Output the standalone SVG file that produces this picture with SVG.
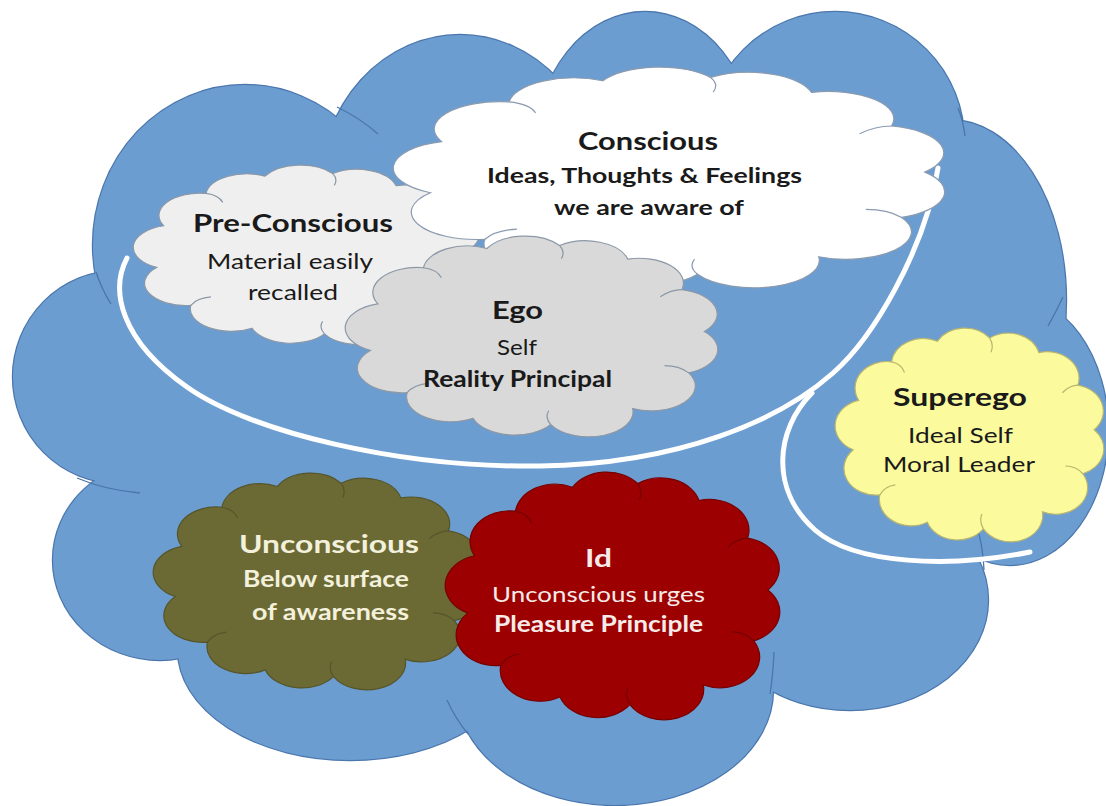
<svg xmlns="http://www.w3.org/2000/svg" xmlns:xlink="http://www.w3.org/1999/xlink" width="1106" height="806" viewBox="0 0 1106 806">
<style>
.lobe-stroke{fill:none;stroke:#4a76ac;stroke-width:2.4}
.lobe-fill{fill:#6c9dd1;stroke:none}
.seam{fill:none;stroke:#4a76ac;stroke-width:1.3}
.wline{fill:none;stroke:#ffffff;stroke-width:5;stroke-linecap:round}
.t{font-family:Lato,"Liberation Sans",sans-serif;text-anchor:middle;fill:#1a1a1a}
.b{font-weight:bold}
.light{fill:#f3f0dc}
.c-white{fill:#ffffff;stroke:#8a9bb0;stroke-width:1.2}
.c-pre{fill:#efefef;stroke:#8a98a8;stroke-width:1.2}
.c-ego{fill:#d9d9d9;stroke:#8c98a6;stroke-width:1.2}
.c-super{fill:#fbfb9e;stroke:#b9b56e;stroke-width:1.2}
.c-uncon{fill:#6b6a34;stroke:#56552a;stroke-width:1.2}
.c-id{fill:#9c0000;stroke:#760000;stroke-width:1.2}
</style>
<defs>
<g id="lobes">
<ellipse cx="245" cy="245" rx="152" ry="160"/>
<ellipse cx="460" cy="190" rx="140" ry="155"/>
<ellipse cx="645" cy="150" rx="110" ry="138"/>
<circle cx="835" cy="141" r="129"/>
<ellipse cx="950" cy="300" rx="116" ry="180"/>
<ellipse cx="1010" cy="430" rx="98" ry="135"/>
<ellipse cx="850" cy="600" rx="138" ry="110"/>
<ellipse cx="615" cy="690" rx="158" ry="115"/>
<ellipse cx="350" cy="650" rx="172" ry="110"/>
<ellipse cx="160" cy="560" rx="107" ry="100"/>
<ellipse cx="118" cy="377" rx="105" ry="106"/>
<ellipse cx="560" cy="400" rx="420" ry="280"/>
</g>
<path id="cloud" vector-effect="non-scaling-stroke" d="M12.41,37.00 A10.5,10.5 0 0 1 23.24,21.76 A10.5,10.5 0 0 1 38.30,13.66 A10.5,10.5 0 0 1 55.57,12.37 A10.5,10.5 0 0 1 71.78,18.13 A10.5,10.5 0 0 1 84.64,31.00 A10.5,10.5 0 0 1 89.98,48.67 A10.5,10.5 0 0 1 86.25,66.06 A10.5,10.5 0 0 1 72.94,81.13 A10.5,10.5 0 0 1 53.49,87.86 A10.5,10.5 0 0 1 35.02,85.23 A10.5,10.5 0 0 1 19.36,74.43 A10.5,10.5 0 0 1 10.61,56.60 A10.5,10.5 0 0 1 12.41,37.00 Z"/>
<path id="wrinkle" fill="none" vector-effect="non-scaling-stroke" d="M23.24,21.76 Q26.5,22.5 27.5,26 M55.57,12.37 Q57,15 56,18 M84.64,31 Q82,31 79.5,34 M86.25,66.06 Q84,63 80.5,63 M53.49,87.86 Q52,85 53,82 M19.36,74.43 Q21,71 24.5,70.5"/>
</defs>

<g id="background-cloud">
<use href="#lobes" class="lobe-stroke"/>
<use href="#lobes" class="lobe-fill"/>
<path class="seam" d="M337,107 Q360,118 378,134 M958,108 Q963,120 965,136 M96,272 Q102,290 111,304 M77,478 Q105,490 140,493 M447,700 Q455,718 468,734 M774,652 Q773,675 770,694 M1063,297 Q1056,312 1048,326 M978,530 Q983,548 984,570"/>
</g>

<g id="connectors">
<path class="wline" d="M127,258 C110,290 120,340 187,387 C250,432 400,468 540,466 C680,464 780,420 833,373 C873,338 925,250 938,168"/>
<path class="wline" d="M812,393 C775,430 770,490 815,530 C855,565 950,568 1030,552"/>
</g>

<g id="node-preconscious">
<g transform="translate(115.0,147.15) scale(3.916,2.125)">
<use href="#cloud" class="c-pre"/>
<use href="#wrinkle" class="c-pre"/>
</g>
<text class="t b" x="293" y="232" font-size="25" textLength="200" lengthAdjust="spacingAndGlyphs">Pre-Conscious</text>
<text class="t" x="290" y="269" font-size="22" textLength="166" lengthAdjust="spacingAndGlyphs">Material easily</text>
<text class="t" x="293" y="300" font-size="22" textLength="90" lengthAdjust="spacingAndGlyphs">recalled</text>
</g>

<g id="node-conscious">
<g transform="translate(364.3,45.1) scale(6.230,2.609)">
<use href="#cloud" class="c-white"/>
<use href="#wrinkle" class="c-white"/>
</g>
<text class="t b" x="648" y="150" font-size="25" textLength="140" lengthAdjust="spacingAndGlyphs">Conscious</text>
<text class="t b" x="644.5" y="183" font-size="21" textLength="315" lengthAdjust="spacingAndGlyphs">Ideas, Thoughts &amp; Feelings</text>
<text class="t b" x="649" y="215" font-size="21" textLength="190" lengthAdjust="spacingAndGlyphs">we are aware of</text>
</g>

<g id="node-ego">
<g transform="translate(325.6,216.1) scale(4.210,2.373)">
<use href="#cloud" class="c-ego"/>
<use href="#wrinkle" class="c-ego"/>
</g>
<text class="t b" x="517.5" y="319" font-size="25" textLength="51" lengthAdjust="spacingAndGlyphs">Ego</text>
<text class="t" x="517" y="355" font-size="22" textLength="40" lengthAdjust="spacingAndGlyphs">Self</text>
<text class="t b" x="517.5" y="387" font-size="22" textLength="189" lengthAdjust="spacingAndGlyphs">Reality Principal</text>
</g>

<g id="node-superego">
<g transform="translate(821.0,306.8) scale(3.036,2.527)">
<use href="#cloud" class="c-super"/>
<use href="#wrinkle" class="c-super"/>
</g>
<text class="t b" x="960" y="406" font-size="25" textLength="134" lengthAdjust="spacingAndGlyphs">Superego</text>
<text class="t" x="960.5" y="443" font-size="22" textLength="105" lengthAdjust="spacingAndGlyphs">Ideal Self</text>
<text class="t" x="959" y="472" font-size="22" textLength="152" lengthAdjust="spacingAndGlyphs">Moral Leader</text>
</g>

<g id="node-unconscious">
<g transform="translate(136.0,451.5) scale(3.691,2.562)">
<use href="#cloud" class="c-uncon"/>
<use href="#wrinkle" class="c-uncon"/>
</g>
<text class="t b light" x="329" y="553" font-size="25" textLength="180" lengthAdjust="spacingAndGlyphs">Unconscious</text>
<text class="t b light" x="326" y="587" font-size="22" textLength="166" lengthAdjust="spacingAndGlyphs">Below surface</text>
<text class="t b light" x="330.5" y="620" font-size="22" textLength="157" lengthAdjust="spacingAndGlyphs">of awareness</text>
</g>

<g id="node-id">
<g transform="translate(427.6,447.4) scale(3.781,2.928)">
<use href="#cloud" class="c-id"/>
<use href="#wrinkle" class="c-id"/>
</g>
<text class="t b" x="598.5" y="567" font-size="25" fill="#f6ebe8" style="fill:#f6ebe8" textLength="27" lengthAdjust="spacingAndGlyphs">Id</text>
<text class="t" x="598.5" y="602" font-size="22" style="fill:#f6ebe8" textLength="213" lengthAdjust="spacingAndGlyphs">Unconscious urges</text>
<text class="t b" x="598.5" y="632" font-size="22" style="fill:#f6ebe8" textLength="209" lengthAdjust="spacingAndGlyphs">Pleasure Principle</text>
</g>
</svg>
